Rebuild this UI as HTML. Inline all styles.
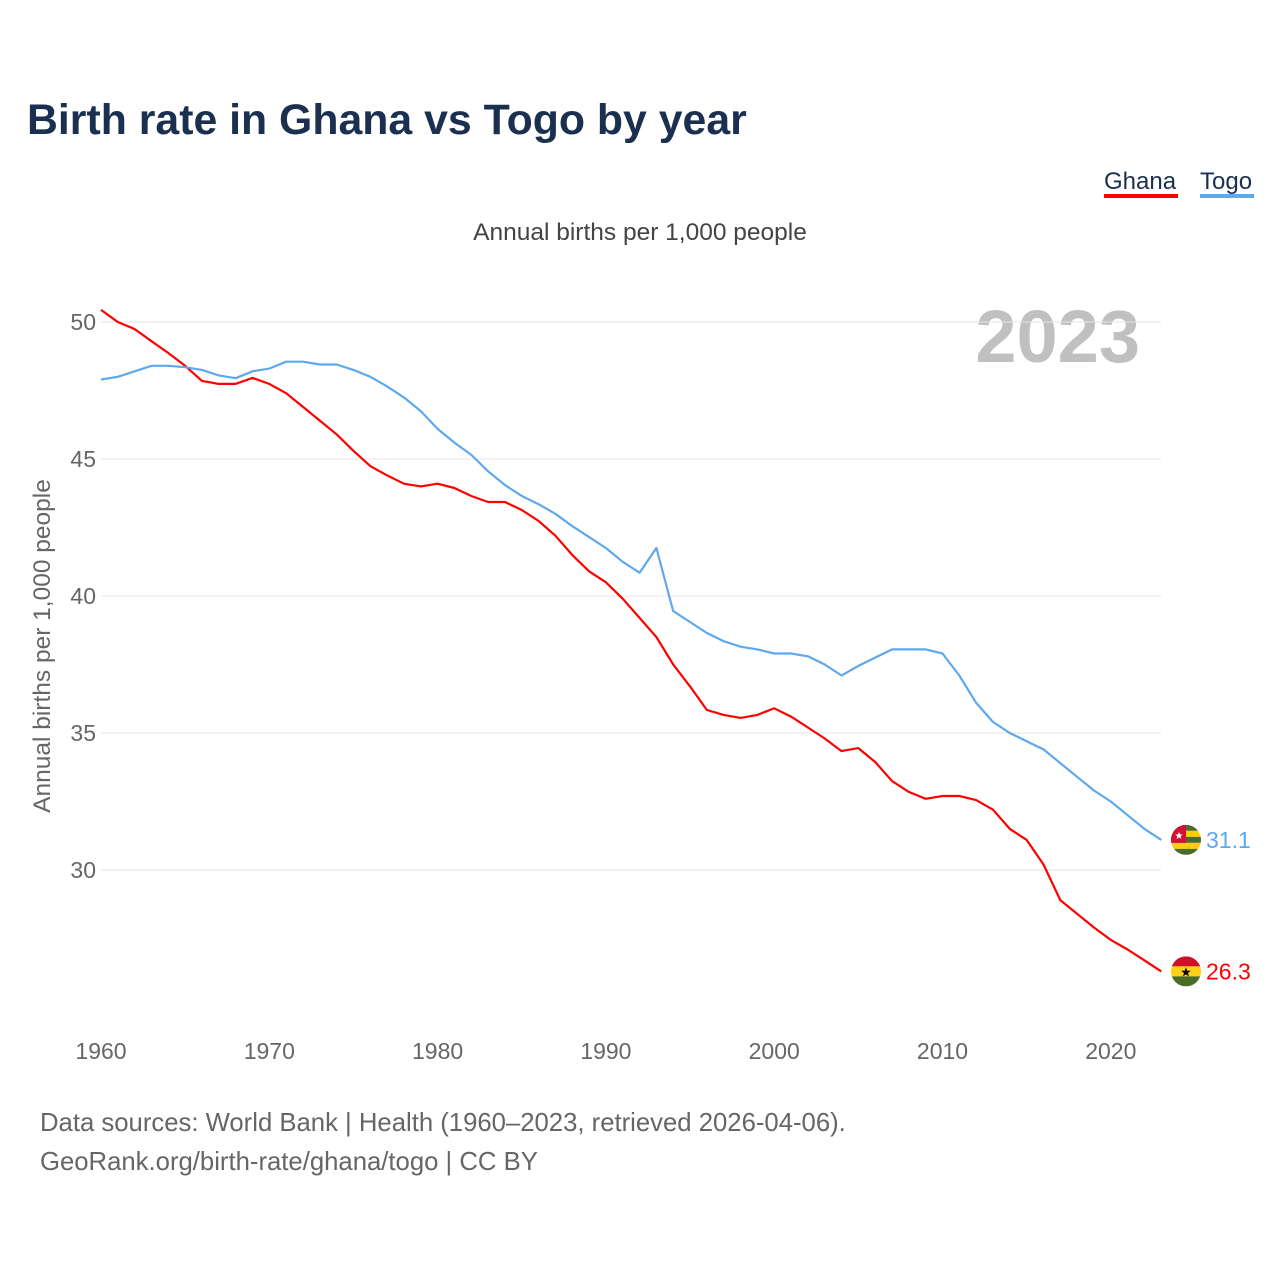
<!DOCTYPE html>
<html><head><meta charset="utf-8"><style>
body{margin:0;background:#fff;font-family:"Liberation Sans",sans-serif}
</style></head><body>
<svg width="1280" height="1280" xmlns="http://www.w3.org/2000/svg" font-family="Liberation Sans, sans-serif">
<text x="27" y="134" font-size="42.8" font-weight="bold" fill="#1b3050">Birth rate in Ghana vs Togo by year</text>
<g>
<text x="1104" y="189" font-size="24" fill="#1b3050">Ghana</text>
<rect x="1104" y="194" width="74" height="4" fill="#ff0000"/>
<text x="1200" y="189" font-size="24" fill="#1b3050">Togo</text>
<rect x="1200" y="194" width="54" height="4" fill="#5ea8ee"/>
</g>
<text x="640" y="240" font-size="24.5" fill="#444" text-anchor="middle">Annual births per 1,000 people</text>
<text x="1140" y="362" font-size="74" font-weight="bold" fill="#c0c0c0" text-anchor="end">2023</text>
<text transform="translate(50,646) rotate(-90)" font-size="24.5" fill="#666" text-anchor="middle">Annual births per 1,000 people</text>
<g id="grid"></g><g id="yt"></g><g id="xt"></g><g id="lines"></g>
<text x="40" y="1131" font-size="25.7" fill="#666">Data sources: World Bank | Health (1960–2023, retrieved 2026-04-06).</text>
<text x="40" y="1170" font-size="25.7" fill="#666">GeoRank.org/birth-rate/ghana/togo | CC BY</text>
</svg>
<script>
const years=[];for(let y=1960;y<=2023;y++)years.push(y);
const ghana=[50.44,50.0,49.74,49.3,48.87,48.4,47.85,47.74,47.74,47.96,47.74,47.4,46.9,46.4,45.9,45.3,44.74,44.4,44.1,44.0,44.1,43.94,43.65,43.43,43.43,43.14,42.74,42.2,41.5,40.9,40.5,39.9,39.2,38.5,37.5,36.7,35.84,35.66,35.55,35.66,35.9,35.6,35.2,34.8,34.34,34.45,33.94,33.25,32.85,32.6,32.7,32.7,32.55,32.2,31.5,31.1,30.2,28.9,28.4,27.9,27.45,27.1,26.7,26.3];
const togo=[47.9,48.0,48.2,48.4,48.4,48.35,48.25,48.05,47.95,48.2,48.3,48.55,48.55,48.45,48.45,48.25,48.0,47.65,47.25,46.75,46.1,45.6,45.15,44.55,44.05,43.65,43.35,43.0,42.55,42.15,41.75,41.25,40.85,41.75,39.45,39.05,38.65,38.35,38.15,38.05,37.9,37.9,37.8,37.5,37.1,37.45,37.75,38.05,38.05,38.05,37.9,37.1,36.1,35.4,35.0,34.7,34.4,33.9,33.4,32.9,32.5,32.0,31.5,31.1];
const yTicks=[30,35,40,45,50];
const xTicks=[1960,1970,1980,1990,2000,2010,2020];
const NS="http://www.w3.org/2000/svg";
const X=y=>101+(y-1960)*16.83;
const Y=v=>322+(50-v)*27.4;
function mk(t,a,p){const e=document.createElementNS(NS,t);for(const k in a)e.setAttribute(k,a[k]);p.appendChild(e);return e;}
const grid=document.getElementById('grid'),yt=document.getElementById('yt'),xt=document.getElementById('xt'),L=document.getElementById('lines');
yTicks.forEach(v=>{
const l=mk('line',{x1:101,x2:1161,y1:Y(v),y2:Y(v),stroke:'#e6e6e6'},grid);


const t=mk('text',{x:96,y:Y(v)+8,'font-size':23,fill:'#666','text-anchor':'end'},yt);t.textContent=v;


});
xTicks.forEach(v=>{
const t=mk('text',{x:X(v),y:1059,'font-size':23,fill:'#666','text-anchor':'middle'},xt);t.textContent=v;


});
function line(data,col,name){
const d=data.map((v,i)=>(i?'L':'M')+X(years[i]).toFixed(1)+','+Y(v).toFixed(1)).join('');
const p=mk('path',{d:d,fill:'none',stroke:col,'stroke-width':2.2,'stroke-linejoin':'round'},L);


const last=data[data.length-1],yy=Y(last);
const t=mk('text',{x:1206,y:yy+8,'font-size':23,fill:col},L);t.textContent=last.toFixed(1);


return yy;
}
function flag(cx,cy,kind){
const g=mk('g',{},L);


const id='c'+kind;const cp=mk('clipPath',{id:id},g);mk('circle',{cx:cx,cy:cy,r:15},cp);
const h=mk('g',{'clip-path':'url(#'+id+')'},g);
if(kind==='ghana'){
mk('rect',{x:cx-15,y:cy-15,width:30,height:10,fill:'#ce1126'},h);
mk('rect',{x:cx-15,y:cy-5,width:30,height:10,fill:'#fcd116'},h);
mk('rect',{x:cx-15,y:cy+5,width:30,height:10,fill:'#4a6b2a'},h);
const s=mk('text',{x:cx,y:cy+5,'font-size':13,'text-anchor':'middle',fill:'#000'},h);s.textContent='★';
}else{
const c=['#4a6b2a','#ffce00','#4a6b2a','#ffce00','#4a6b2a'];
c.forEach((f,i)=>mk('rect',{x:cx-15,y:cy-15+i*6,width:30,height:6,fill:f},h));
mk('rect',{x:cx-15,y:cy-15,width:15,height:18,fill:'#d21034'},h);
const s=mk('text',{x:cx-7,y:cy-1,'font-size':10,'text-anchor':'middle',fill:'#fff'},h);s.textContent='★';
}
}
const gy=line(ghana,'#ff0000','ghana');
const ty=line(togo,'#5ea8ee','togo');
flag(1186,gy,'ghana');flag(1186,ty,'togo');
</script>
</body></html>
